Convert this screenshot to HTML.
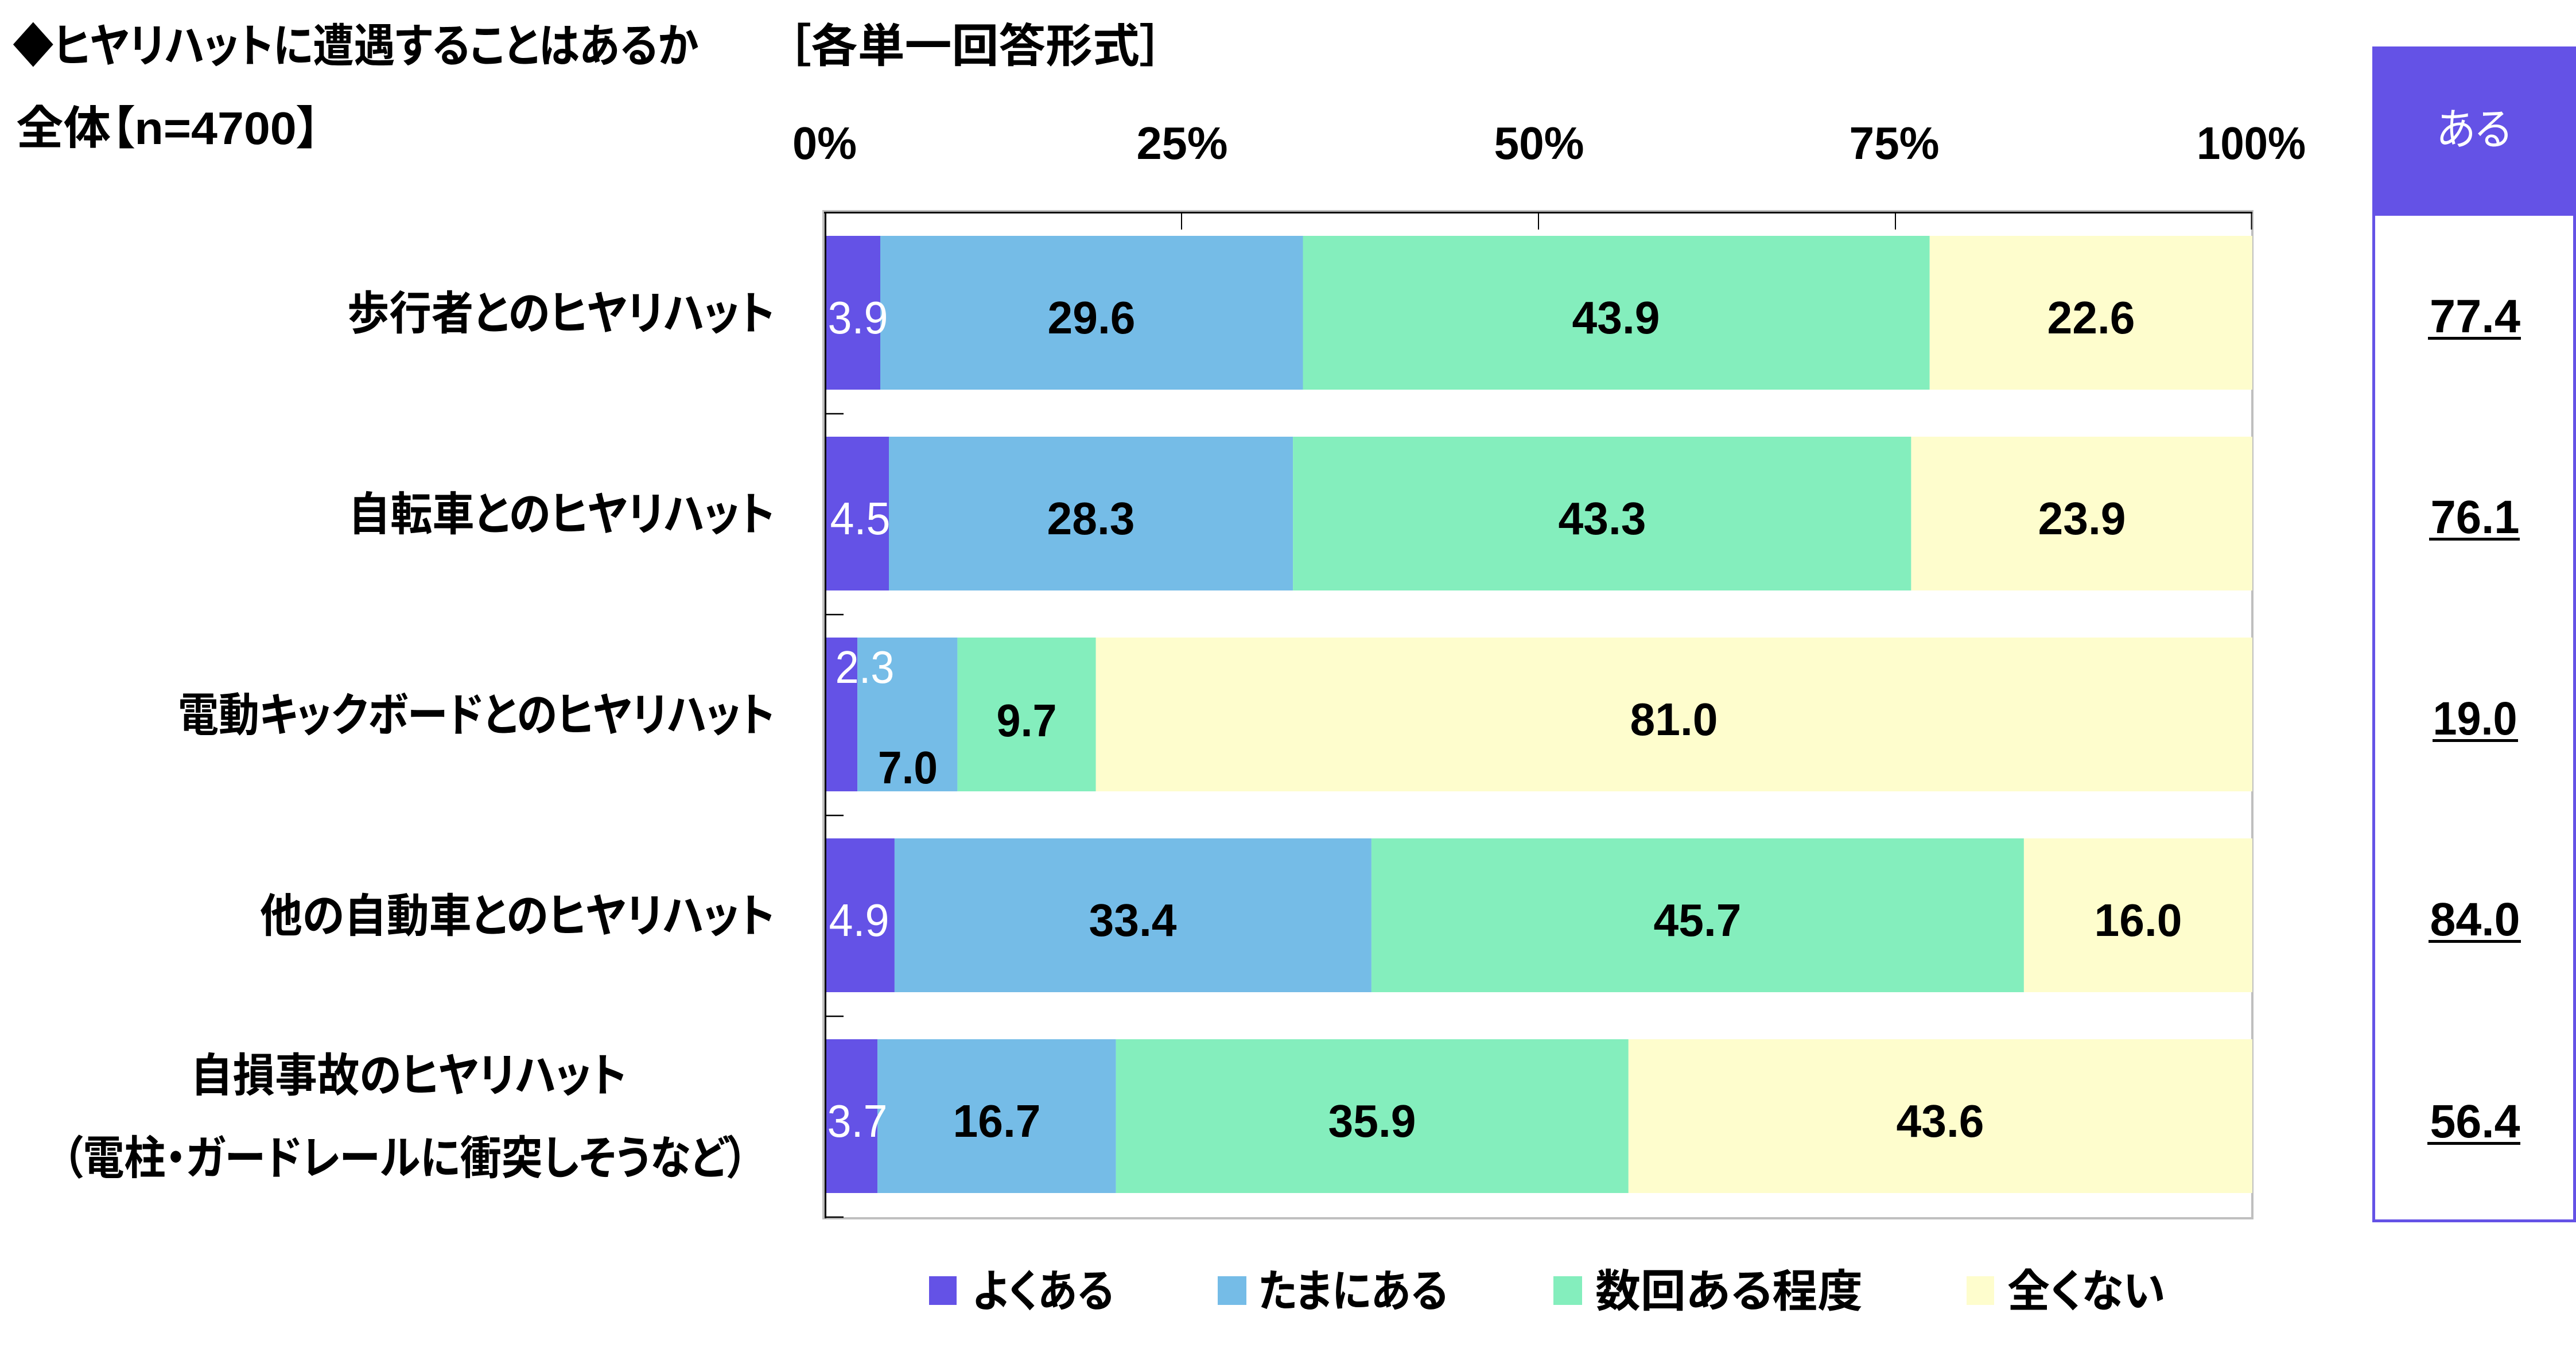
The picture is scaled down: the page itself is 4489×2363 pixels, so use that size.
<!DOCTYPE html>
<html><head><meta charset="utf-8"><style>
html,body{margin:0;padding:0;background:#fff;}
svg{display:block;}
.jp{font-family:"Liberation Sans","Noto Sans CJK JP",sans-serif;font-weight:bold;font-feature-settings:"palt" 1;}
.num{font-family:"Liberation Sans",sans-serif;font-weight:bold;}
.wnum{font-family:"Liberation Sans",sans-serif;font-weight:normal;fill:#fff;}
</style></head><body>
<svg width="4489" height="2363" viewBox="0 0 4489 2363" xmlns="http://www.w3.org/2000/svg">
<rect x="0" y="0" width="4489" height="2363" fill="#fff"/>

<!-- Titles -->
<text class="jp" x="22" y="108" font-size="80" textLength="1195" lengthAdjust="spacingAndGlyphs">◆ヒヤリハットに遭遇することはあるか</text>
<text class="jp" x="1372" y="108" font-size="80" textLength="655" lengthAdjust="spacingAndGlyphs">［各単一回答形式］</text>
<text class="jp" x="28" y="251" font-size="80" textLength="530" lengthAdjust="spacingAndGlyphs">全体【n=4700】</text>

<!-- Axis tick labels -->
<g class="num" font-size="80" text-anchor="middle">
<text x="1437" y="277" textLength="112" lengthAdjust="spacingAndGlyphs">0%</text>
<text x="2060" y="277" textLength="159" lengthAdjust="spacingAndGlyphs">25%</text>
<text x="2682" y="277" textLength="157" lengthAdjust="spacingAndGlyphs">50%</text>
<text x="3301" y="277" textLength="157" lengthAdjust="spacingAndGlyphs">75%</text>
<text x="3923" y="277" textLength="190" lengthAdjust="spacingAndGlyphs">100%</text>
</g>

<!-- Plot frame (gray) -->
<rect x="1435" y="368" width="2490" height="1755" fill="none" stroke="#BFBFBF" stroke-width="4"/>

<!-- Bars -->
<g>
<rect x="1437" y="411" width="97" height="268" fill="#6452E6"/>
<rect x="1534" y="411" width="736.5" height="268" fill="#75BCE7"/>
<rect x="2270.5" y="411" width="1092.2" height="268" fill="#84EEBD"/>
<rect x="3362.7" y="411" width="562.3" height="268" fill="#FEFDCD"/>

<rect x="1437" y="761" width="112" height="268" fill="#6452E6"/>
<rect x="1549" y="761" width="704.1" height="268" fill="#75BCE7"/>
<rect x="2253.1" y="761" width="1077.3" height="268" fill="#84EEBD"/>
<rect x="3330.4" y="761" width="594.6" height="268" fill="#FEFDCD"/>

<rect x="1437" y="1111" width="57.2" height="268" fill="#6452E6"/>
<rect x="1494.2" y="1111" width="174.2" height="268" fill="#75BCE7"/>
<rect x="1668.4" y="1111" width="241.3" height="268" fill="#84EEBD"/>
<rect x="1909.7" y="1111" width="2015.3" height="268" fill="#FEFDCD"/>

<rect x="1437" y="1461" width="121.9" height="268" fill="#6452E6"/>
<rect x="1558.9" y="1461" width="831" height="268" fill="#75BCE7"/>
<rect x="2389.9" y="1461" width="1137" height="268" fill="#84EEBD"/>
<rect x="3526.9" y="1461" width="398.1" height="268" fill="#FEFDCD"/>

<rect x="1437" y="1811" width="92.1" height="268" fill="#6452E6"/>
<rect x="1529.1" y="1811" width="415.5" height="268" fill="#75BCE7"/>
<rect x="1944.6" y="1811" width="893.2" height="268" fill="#84EEBD"/>
<rect x="2837.8" y="1811" width="1087.2" height="268" fill="#FEFDCD"/>
</g>

<!-- Black axes -->
<line x1="1436" y1="370.5" x2="3925" y2="370.5" stroke="#000" stroke-width="3"/>
<line x1="1438.5" y1="369" x2="1438.5" y2="2123" stroke="#000" stroke-width="3"/>
<g stroke="#000" stroke-width="2">
<line x1="2059" y1="372" x2="2059" y2="400"/>
<line x1="2681" y1="372" x2="2681" y2="400"/>
<line x1="3303" y1="372" x2="3303" y2="400"/>
<line x1="3923.5" y1="369" x2="3923.5" y2="400"/>
</g>
<g stroke="#000" stroke-width="2.5">
<line x1="1438" y1="721" x2="1470" y2="721"/>
<line x1="1438" y1="1071" x2="1470" y2="1071"/>
<line x1="1438" y1="1421" x2="1470" y2="1421"/>
<line x1="1438" y1="1771" x2="1470" y2="1771"/>
<line x1="1438" y1="2121" x2="1470" y2="2121"/>
</g>

<!-- Category labels -->
<g class="jp" font-size="80" text-anchor="end">
<text x="1350" y="574" textLength="745" lengthAdjust="spacingAndGlyphs">歩行者とのヒヤリハット</text>
<text x="1350" y="924" textLength="743" lengthAdjust="spacingAndGlyphs">自転車とのヒヤリハット</text>
<text x="1350" y="1274" textLength="1040" lengthAdjust="spacingAndGlyphs">電動キックボードとのヒヤリハット</text>
<text x="1350" y="1624" textLength="897" lengthAdjust="spacingAndGlyphs">他の自動車とのヒヤリハット</text>
</g>
<g class="jp" font-size="80" text-anchor="middle">
<text x="712" y="1902" textLength="760" lengthAdjust="spacingAndGlyphs">自損事故のヒヤリハット</text>
<text x="706" y="2046" textLength="1195" lengthAdjust="spacingAndGlyphs">（電柱・ガードレールに衝突しそうなど）</text>
</g>

<!-- Bar value labels -->
<g class="wnum" font-size="80" text-anchor="middle">
<text x="1495" y="581" textLength="105" lengthAdjust="spacingAndGlyphs">3.9</text>
<text x="1499" y="931" textLength="105" lengthAdjust="spacingAndGlyphs">4.5</text>
<text x="1507" y="1190" textLength="103" lengthAdjust="spacingAndGlyphs">2.3</text>
<text x="1497" y="1631" textLength="105" lengthAdjust="spacingAndGlyphs">4.9</text>
<text x="1494" y="1981" textLength="105" lengthAdjust="spacingAndGlyphs">3.7</text>
</g>
<g class="num" font-size="80" text-anchor="middle" fill="#000">
<text x="1902" y="581" textLength="153" lengthAdjust="spacingAndGlyphs">29.6</text>
<text x="2816" y="581" textLength="153" lengthAdjust="spacingAndGlyphs">43.9</text>
<text x="3644" y="581" textLength="153" lengthAdjust="spacingAndGlyphs">22.6</text>

<text x="1901" y="931" textLength="153" lengthAdjust="spacingAndGlyphs">28.3</text>
<text x="2792" y="931" textLength="153" lengthAdjust="spacingAndGlyphs">43.3</text>
<text x="3628" y="931" textLength="153" lengthAdjust="spacingAndGlyphs">23.9</text>

<text x="1582" y="1365" textLength="104" lengthAdjust="spacingAndGlyphs">7.0</text>
<text x="1789" y="1283" textLength="105" lengthAdjust="spacingAndGlyphs">9.7</text>
<text x="2917" y="1281" textLength="153" lengthAdjust="spacingAndGlyphs">81.0</text>

<text x="1974" y="1631" textLength="153" lengthAdjust="spacingAndGlyphs">33.4</text>
<text x="2958" y="1631" textLength="153" lengthAdjust="spacingAndGlyphs">45.7</text>
<text x="3726" y="1631" textLength="153" lengthAdjust="spacingAndGlyphs">16.0</text>

<text x="1737" y="1981" textLength="153" lengthAdjust="spacingAndGlyphs">16.7</text>
<text x="2391" y="1981" textLength="153" lengthAdjust="spacingAndGlyphs">35.9</text>
<text x="3381" y="1981" textLength="153" lengthAdjust="spacingAndGlyphs">43.6</text>
</g>

<!-- Right panel -->
<rect x="4136.5" y="83.5" width="350" height="2044" fill="none" stroke="#6452E6" stroke-width="5"/>
<rect x="4134" y="81" width="355" height="295" fill="#6452E6"/>
<text x="4311" y="252" font-size="76" text-anchor="middle" fill="#fff" style="font-family:'Liberation Sans','Noto Sans CJK JP',sans-serif;font-weight:normal;font-feature-settings:'palt' 1;" textLength="130" lengthAdjust="spacingAndGlyphs">ある</text>

<g class="num" font-size="82" text-anchor="middle" fill="#000">
<text x="4313" y="579" textLength="158" lengthAdjust="spacingAndGlyphs">77.4</text>
<text x="4313" y="929" textLength="155" lengthAdjust="spacingAndGlyphs">76.1</text>
<text x="4313" y="1280" textLength="147" lengthAdjust="spacingAndGlyphs">19.0</text>
<text x="4313" y="1630" textLength="157" lengthAdjust="spacingAndGlyphs">84.0</text>
<text x="4313" y="1982" textLength="157" lengthAdjust="spacingAndGlyphs">56.4</text>
</g>
<g fill="#000">
<rect x="4231" y="587" width="162" height="5"/>
<rect x="4233" y="937" width="158" height="5"/>
<rect x="4239" y="1288" width="149" height="5"/>
<rect x="4232" y="1638" width="161" height="5"/>
<rect x="4230" y="1990" width="162" height="5"/>
</g>

<!-- Legend -->
<rect x="1619" y="2224" width="48" height="50" fill="#6452E6"/>
<rect x="2122" y="2224" width="50" height="50" fill="#75BCE7"/>
<rect x="2707" y="2224" width="50" height="50" fill="#84EEBD"/>
<rect x="3427" y="2224" width="48" height="50" fill="#FEFDCD"/>
<g class="jp" font-size="78">
<text x="1695" y="2277" textLength="246" lengthAdjust="spacingAndGlyphs">よくある</text>
<text x="2193" y="2277" textLength="330" lengthAdjust="spacingAndGlyphs">たまにある</text>
<text x="2780" y="2277" textLength="466" lengthAdjust="spacingAndGlyphs">数回ある程度</text>
<text x="3498" y="2277" textLength="275" lengthAdjust="spacingAndGlyphs">全くない</text>
</g>
</svg>
</body></html>
